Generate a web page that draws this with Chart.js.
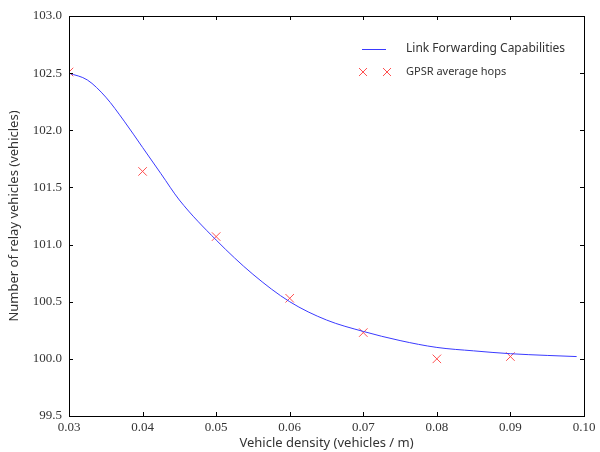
<!DOCTYPE html>
<html>
<head>
<meta charset="utf-8">
<script src="https://cdn.jsdelivr.net/npm/chart.js@4.4.1/dist/chart.umd.min.js"></script>
<style>
  html, body { margin: 0; padding: 0; background: #fff; }
  #wrap { width: 600px; height: 452px; position: relative; }
</style>
</head>
<body>
<div id="wrap"><canvas id="c" width="600" height="452"></canvas></div>
<script>
// ---- data ----
const densityX = [0.03, 0.04, 0.05, 0.06, 0.07, 0.08, 0.09];
const gpsrHops = [102.51, 101.64, 101.07, 100.53, 100.23, 100.00, 100.02];

const curveX = [0.03, 0.0325, 0.035, 0.0375, 0.04, 0.0425, 0.045, 0.05, 0.055, 0.06, 0.065, 0.07, 0.075, 0.08, 0.085, 0.09, 0.095, 0.099];
const curveY = [102.50, 102.44, 102.29, 102.08, 101.85, 101.62, 101.39, 101.04, 100.74, 100.50, 100.34, 100.24, 100.16, 100.10, 100.07, 100.045, 100.03, 100.02];

const xTickStep = 0.01, xMin = 0.03, xMax = 0.10;
const yTickStep = 0.5, yMin = 99.5, yMax = 103.0;

const lineLabel = 'Link Forwarding Capabilities';
const markLabel = 'GPSR average hops';
const xTitle = 'Vehicle density (vehicles / m)';
const yTitle = 'Number of relay vehicles (vehicles)';

const BLUE = '#3a3aff';
const RED = '#ff5050';
const SERIF = '"Liberation Serif", "DejaVu Serif", serif';
const SANS = '"Noto Sans", "Open Sans", sans-serif';

const framePlugin = {
  id: 'frame',
  afterDraw(chart) {
    const ctx = chart.ctx, a = chart.chartArea;
    const xs = chart.scales.x, ys = chart.scales.y;
    ctx.save();
    ctx.strokeStyle = '#000';
    ctx.lineWidth = 1;
    ctx.strokeRect(Math.round(a.left) + 0.5, Math.round(a.top) + 0.5,
                   Math.round(a.right - a.left), Math.round(a.bottom - a.top));
    const L = 4;
    ctx.beginPath();
    xs.ticks.forEach(t => {
      const p = Math.round(xs.getPixelForValue(t.value)) + 0.5;
      ctx.moveTo(p, a.bottom); ctx.lineTo(p, a.bottom - L);
      ctx.moveTo(p, a.top); ctx.lineTo(p, a.top + L);
    });
    ys.ticks.forEach(t => {
      const p = Math.round(ys.getPixelForValue(t.value)) + 0.5;
      ctx.moveTo(a.left, p); ctx.lineTo(a.left + L, p);
      ctx.moveTo(a.right, p); ctx.lineTo(a.right - L, p);
    });
    ctx.stroke();

    // legend (inside, top-right, no frame)
    const lx = 362, tx = 406;
    ctx.strokeStyle = BLUE;
    ctx.beginPath();
    ctx.moveTo(lx, 49.5); ctx.lineTo(lx + 24, 49.5);
    ctx.stroke();
    ctx.strokeStyle = RED;
    [363, 387].forEach(cx => {
      const cy = 72, r = 4;
      ctx.beginPath();
      ctx.moveTo(cx - r, cy - r); ctx.lineTo(cx + r, cy + r);
      ctx.moveTo(cx - r, cy + r); ctx.lineTo(cx + r, cy - r);
      ctx.stroke();
    });
    ctx.fillStyle = '#333';
    ctx.textBaseline = 'middle';
    ctx.textAlign = 'left';
    ctx.font = '12px ' + SANS;
    ctx.fillText(lineLabel, tx, 49);
    ctx.font = '11px ' + SANS;
    ctx.fillText(markLabel, tx, 72);
    ctx.restore();
  }
};

function build() {
  new Chart(document.getElementById('c'), {
    type: 'scatter',
    data: {
      datasets: [
        {
          label: lineLabel,
          data: curveX.map((x, i) => ({ x, y: curveY[i] })),
          showLine: true,
          borderColor: BLUE,
          borderWidth: 1,
          pointRadius: 0,
          cubicInterpolationMode: 'monotone',
          fill: false,
          clip: 0
        },
        {
          label: markLabel,
          data: densityX.map((x, i) => ({ x, y: gpsrHops[i] })),
          showLine: false,
          pointStyle: 'crossRot',
          pointRadius: 6,
          borderColor: RED,
          backgroundColor: RED,
          borderWidth: 1,
          clip: 0
        }
      ]
    },
    options: {
      responsive: false,
      animation: false,
      devicePixelRatio: 1,
      layout: { padding: { left: 0, right: 16, top: 16, bottom: 0 } },
      plugins: { legend: { display: false }, tooltip: { enabled: false } },
      scales: {
        x: {
          type: 'linear', min: xMin, max: xMax,
          grid: { display: false, drawTicks: false },
          border: { display: false },
          ticks: {
            stepSize: xTickStep, padding: 4, color: '#333',
            font: { family: SERIF, size: 13 },
            maxRotation: 0,
            callback: v => v.toFixed(2)
          },
          title: {
            display: true, text: xTitle, color: '#333',
            font: { family: SANS, size: 13 },
            padding: { top: 0, bottom: 1 }
          },
          afterFit: s => { s.height = 36; }
        },
        y: {
          type: 'linear', min: yMin, max: yMax,
          grid: { display: false, drawTicks: false },
          border: { display: false },
          ticks: {
            stepSize: yTickStep, padding: 7, color: '#333',
            font: { family: SERIF, size: 13 },
            callback: v => v.toFixed(1)
          },
          title: {
            display: true, text: yTitle, color: '#333',
            font: { family: SANS, size: 13 },
            padding: { top: 6, bottom: 0 }
          },
          afterFit: s => { s.width = 69; }
        }
      }
    },
    plugins: [framePlugin]
  });
}

Promise.all([
  document.fonts.load('13px "Liberation Serif"'),
  document.fonts.load('13px "Noto Sans"')
]).then(build, build);
</script>
</body>
</html>
